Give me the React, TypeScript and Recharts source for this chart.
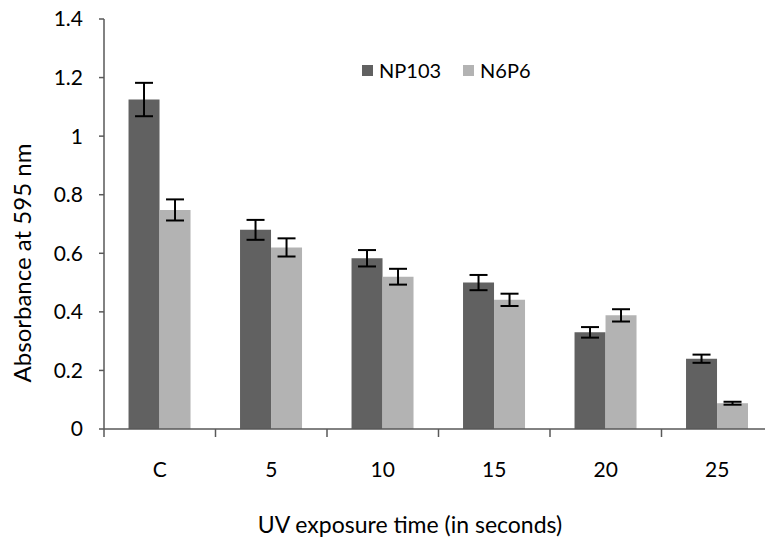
import { BarChart, Bar, XAxis, YAxis, ErrorBar } from "recharts";

// #region Sample data
const categories = ["C", "5", "10", "15", "20", "25"];
const np103 = [1.125, 0.68, 0.583, 0.5, 0.33, 0.24];
const np103Err = [0.057, 0.034, 0.028, 0.026, 0.018, 0.014];
const n6p6 = [0.748, 0.62, 0.52, 0.441, 0.388, 0.088];
const n6p6Err = [0.036, 0.031, 0.027, 0.021, 0.021, 0.005];
const yTicks = [0, 0.2, 0.4, 0.6, 0.8, 1, 1.2, 1.4];
const seriesNames = ["NP103", "N6P6"];
// #endregion

const data = categories.map((name, i) => ({
  name,
  np103: np103[i],
  np103Err: np103Err[i],
  n6p6: n6p6[i],
  n6p6Err: n6p6Err[i],
}));

const FONT = "Lato, 'Open Sans', sans-serif";
const AXIS = "#595959";
const DARK = "#616161";
const LIGHT = "#b3b3b3";

const CategoryTick = (props: any) => {
  const { x, y, payload, index, visibleTicksCount } = props;
  const half = payload?.offset ?? 55.7;
  return (
    <g>
      <line x1={x - half} y1={y} x2={x - half} y2={y + 8} stroke={AXIS} strokeWidth={1.5} />
      {index === visibleTicksCount - 1 && (
        <line x1={x + half} y1={y} x2={x + half} y2={y + 8} stroke={AXIS} strokeWidth={1.5} />
      )}
      <text
        x={x}
        y={y + 43}
        textAnchor="middle"
        dominantBaseline="middle"
        fontFamily={FONT}
        fontSize={21}
        fill="#000"
      >
        {payload.value}
      </text>
    </g>
  );
};

// legend drawn as plain html over the chart so it doesn't shrink the plot
const ChartLegend = () => (
  <div
    style={{
      position: "absolute",
      left: 362,
      top: 58,
      display: "flex",
      alignItems: "center",
      fontFamily: FONT,
      fontSize: 20,
      lineHeight: "24px",
      color: "#000",
    }}
  >
    {seriesNames.map((name, i) => (
      <div key={name} style={{ display: "flex", alignItems: "center", marginRight: 22 }}>
        <span
          style={{
            display: "inline-block",
            width: 11,
            height: 11,
            background: i === 0 ? DARK : LIGHT,
            marginRight: 6,
          }}
        />
        <span>{name}</span>
      </div>
    ))}
  </div>
);

const UvChart = () => (
  <BarChart
    width={780}
    height={543}
    data={data}
    margin={{ top: 19, right: 7, bottom: 53, left: 0 }}
    barCategoryGap="22%"
    barGap={0}
  >
    <YAxis
      width={104}
      domain={[0, 1.4]}
      ticks={yTicks}
      interval={0}
      tickSize={5}
      tickMargin={16}
      axisLine={{ stroke: AXIS, strokeWidth: 1.5 }}
      tickLine={{ stroke: AXIS, strokeWidth: 1.5 }}
      tick={{ fontFamily: FONT, fontSize: 21, fill: "#000" }}
      label={({ viewBox }: any) => (
        <text
          x={viewBox.x + 25}
          y={263}
          transform={`rotate(-90, ${viewBox.x + 25}, 263)`}
          textAnchor="middle"
          dominantBaseline="middle"
          fontFamily={FONT}
          fontSize={24}
          fill="#000"
        >
          Absorbance at 595 nm
        </text>
      )}
    />
    <XAxis
      dataKey="name"
      height={61}
      interval={0}
      tickSize={0}
      tickMargin={0}
      tickLine={false}
      axisLine={{ stroke: AXIS, strokeWidth: 1.5 }}
      tick={<CategoryTick />}
      label={() => (
        <text
          x={410}
          y={527}
          textAnchor="middle"
          dominantBaseline="middle"
          fontFamily={FONT}
          fontSize={23}
          fill="#000"
        >
          UV exposure time (in seconds)
        </text>
      )}
    />
    <Bar dataKey="np103" name="NP103" fill={DARK} isAnimationActive={false}>
      <ErrorBar dataKey="np103Err" width={9} stroke="#000" strokeWidth={2} isAnimationActive={false} />
    </Bar>
    <Bar dataKey="n6p6" name="N6P6" fill={LIGHT} isAnimationActive={false}>
      <ErrorBar dataKey="n6p6Err" width={9} stroke="#000" strokeWidth={2} isAnimationActive={false} />
    </Bar>
  </BarChart>
);

export default function App() {
  return (
    <div
      style={{
        position: "absolute",
        left: 0,
        top: 0,
        width: 765,
        height: 543,
        overflow: "hidden",
        background: "#fff",
      }}
    >
      <UvChart />
      <ChartLegend />
    </div>
  );
}
